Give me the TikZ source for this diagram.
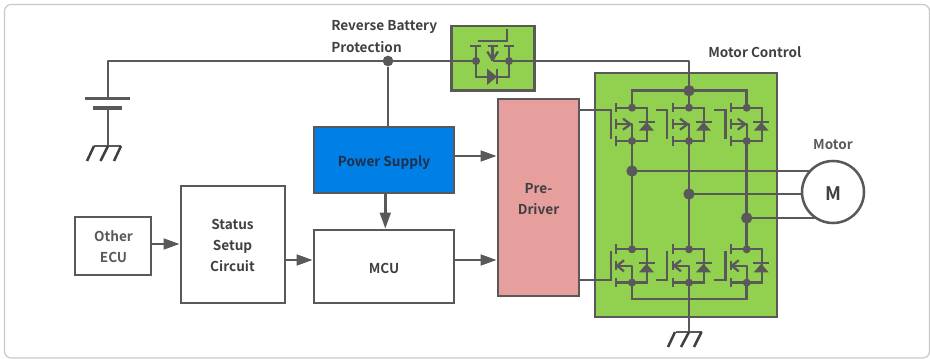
\documentclass[tikz,border=0pt]{standalone}
\usepackage{fontspec}
\setmainfont{Noto Sans CJK JP}[BoldFont={Noto Sans CJK JP Bold}]
\usetikzlibrary{arrows.meta}
\definecolor{wire}{HTML}{595959}
\definecolor{frameg}{HTML}{C8C8C8}
\definecolor{fetgreen}{HTML}{92D050}
\definecolor{prepink}{HTML}{E69F9D}
\definecolor{psblue}{HTML}{0080E6}
\definecolor{txt}{HTML}{404040}
\definecolor{navytxt}{HTML}{1F2F4A}
\tikzset{
  x=0.75pt,y=-0.75pt,
  wirel/.style={draw=wire,line width=1.95pt},
  thinw/.style={draw=wire,line width=1.7pt},
  boxs/.style={draw=wire,line width=2pt,fill=white,inner sep=0pt,text=txt,font=\bfseries\fontsize{10.2}{15.6}\selectfont,align=center},
  lab/.style={text=txt,font=\bfseries\fontsize{10.2}{15.6}\selectfont,inner sep=0pt},
  arr/.style={wirel,-{Triangle[length=12pt,width=8pt]}},
  dotb/.style={circle,fill=wire,inner sep=0pt,minimum size=8pt},
  dots/.style={circle,fill=wire,inner sep=0pt,minimum size=6pt},
  dotl/.style={circle,fill=wire,inner sep=0pt,minimum size=8.5pt},
  gndl/.style={draw=txt,line width=1.9pt}
}
\newcommand{\fetbody}[3]{%
\begin{scope}[shift={(#1,#2)}]
  \draw[thinw] (-16,0) -- (15,0) -- (15,33.3) -- (-16,33.3);
  \draw[thinw] (-16,-5) -- (-16,4.5) (-16,11.5) -- (-16,21) (-16,28.5) -- (-16,38);
  \fill[wire] (14.5,13.5) ++(-7.5,9.5) -- ++(15,0) -- (14.5,14.5) -- cycle;
  \draw[thinw] (6.5,14) -- (22.5,14);
  \node[dots] at (0,0) {};
  \node[dots] at (0,33.3) {};
  \ifnum#3=1
    \draw[thinw,line join=round] (-16,16.5) -- (0,16.5) -- (0,33.3);
    \draw[thinw] (-9,11) -- (-1.5,16.5) -- (-9,22);
  \else
    \draw[thinw,line join=round] (-15,16.5) -- (0,16.5) -- (0,33.3);
    \draw[thinw] (-8,11) -- (-15,16.5) -- (-8,22);
  \fi
\end{scope}}
\begin{document}
\begin{tikzpicture}
\useasboundingbox (0,0) rectangle (930,359);
\draw[frameg,line width=0.9pt,rounded corners=5pt] (4.5,4.5) rectangle (929.5,358);
\node[draw=wire,line width=2pt,fill=fetgreen,inner sep=0pt,minimum width=62.25pt,minimum height=48.5pt] (rbp) at (493.3,58.3) {};
\node[draw=wire,line width=2pt,fill=fetgreen,inner sep=0pt,minimum width=136.5pt,minimum height=183pt] (mc) at (686,195) {};
\coordinate (bt) at (108,61);
\coordinate (rbl) at (476,61);
\coordinate (rbr) at (509,61);
\coordinate (rbm) at (492.5,61);
\coordinate (pj) at (388,61);
\coordinate (corner) at (689,61);
\coordinate (topr) at (689,90.7);
\coordinate (topa) at (632,90.7);
\coordinate (topc) at (746.7,90.7);
\coordinate (bp1) at (108,98.5);
\coordinate (bp2) at (108,108);
\coordinate (bg) at (108,146);
\coordinate (gg) at (689,332);
\coordinate (botr) at (689,299);
\coordinate (bota) at (632,299);
\coordinate (botc) at (746.7,299);
\draw[wirel,line join=round] (bp1) -- (bt) -- (rbl);
\draw[wirel,line join=round] (rbm) -- (corner) -- (topr);
\draw[wirel] (topa |- 107.7,107.7) -- (topa) -- (topc) -- (topc |- 107.7,107.7);
\draw[wirel] (topr) -- (689,107.7);
\draw[wire,line width=2.7pt] (85,98.5) -- (130,98.5);
\draw[wire,line width=2.7pt] (93,108) -- (122,108);
\draw[wirel] (bp2) -- (bg);
\draw[wirel] (94,146) -- (121,146);
\draw[gndl] (94,146) -- (87,161) (108,146) -- (100.5,161) (121,146) -- (114,161);
\draw[thinw] (477.7,40.7) -- (507,40.7) -- (507,29);
\draw[thinw] (470,45.7) -- (481,45.7) (487.5,45.7) -- (498,45.7) (504,45.7) -- (513.5,45.7);
\draw[thinw] (rbl |- 0,45.7) -- (rbl) -- (rbl |- 0,76.7) -- (rbr |- 0,76.7) -- (rbr) -- (rbr |- 0,45.7);
\draw[thinw] (rbm |- 0,45.7) -- (rbm);
\draw[thinw,line join=round] (487.3,51.5) -- (492.5,60) -- (498,51.5);
\fill[wire] (487,68.5) -- (497,76.7) -- (487,85) -- cycle;
\draw[thinw] (497,69) -- (497,84.5);
\node[dots] at (rbl) {};
\node[dots] at (rbr) {};
\node[dotb] (pjd) at (pj) {};
\coordinate (m1) at (632,171);
\coordinate (m2) at (689,194);
\coordinate (m3) at (746.7,218);
\draw[wirel] (632,141) -- (m1) -- (632,249.3);
\draw[wirel] (689,141) -- (m2) -- (689,249.3);
\draw[wirel] (746.7,141) -- (m3) -- (746.7,249.3);
\draw[wirel] (632,282.3) -- (bota) -- (botc) -- (746.7,282.3);
\draw[wirel] (689,282.3) -- (gg);
\draw[wirel] (676,332) -- (701.5,332);
\draw[gndl] (675,332) -- (668,347) (689,332) -- (681,347) (701.5,332) -- (694,347);
\fetbody{632}{107.7}{1}
\fetbody{689}{107.7}{1}
\fetbody{746.7}{107.7}{1}
\fetbody{632}{249.3}{0}
\fetbody{689}{249.3}{0}
\fetbody{746.7}{249.3}{0}
\node[dotl] at (m1) {};
\node[dotl] at (m2) {};
\node[dotl] at (m3) {};
\node[dotl] at (topr) {};
\node[boxs,fill=prepink,minimum width=60.75pt,minimum height=147.75pt] (pre) at (538.5,197.5) {};
\node[lab,align=center] at (538.5,198.8) {Pre-\\Driver};
\node[boxs,fill=psblue,minimum width=105pt,minimum height=49.5pt] (ps) at (384,160) {};
\node[lab,text=navytxt] at (384,162.5) {Power Supply};
\node[boxs,minimum width=105pt,minimum height=54.75pt] (mcu) at (384,266.5) {};
\node[lab] at (384,268) {MCU};
\node[boxs,minimum width=78pt,minimum height=87.75pt] (st) at (233,244.5) {};
\node[lab,align=center] at (232.5,245.5) {Status\\Setup\\Circuit};
\node[boxs,minimum width=57pt,minimum height=43.5pt] (ecu) at (113,246) {};
\node[lab,align=center,text=wire] at (113.5,247) {Other\\ECU};
\coordinate (g1) at (611,110);
\coordinate (g2) at (667,110);
\coordinate (g3) at (725.7,110);
\coordinate (h1) at (611,280);
\coordinate (h2) at (667,280);
\coordinate (h3) at (725.7,280);
\draw[wirel] (pre.east |- g1) -- (g1) -- (611,139);
\draw[wirel] (656,110) -- (g2) -- (667,139);
\draw[wirel] (714,110) -- (g3) -- (725.7,139);
\draw[wirel] (pre.east |- h1) -- (h1) -- (611,251);
\draw[wirel] (656,280) -- (h2) -- (667,251);
\draw[wirel] (714,280) -- (h3) -- (725.7,251);
\draw[wirel] (pjd) -- (pjd |- ps.north);
\draw[arr] (ecu.east |- 0,244) -- (st.west |- 0,244);
\draw[arr] (st.east |- 0,260) -- (mcu.west |- 0,260);
\draw[arr] (mcu.east |- 0,260) -- (pre.west |- 0,260);
\draw[arr] (ps.east |- 0,156) -- (pre.west |- 0,156);
\draw[arr] (ps.south -| 385.3,0) -- (mcu.north -| 385.3,0);
\draw[wirel] (m1) -- (833,171);
\draw[wirel] (m2) -- (833,194);
\draw[wirel] (m3) -- (833,218);
\node[circle,draw=wire,line width=1.9pt,fill=white,minimum size=46.5pt,inner sep=0pt] (mot) at (833,192) {};
\node[text=txt,inner sep=0pt,font=\bfseries\fontsize{14}{16}\selectfont] at (833,194) {M};
\node[lab,anchor=west] (l1) at (331,27) {Reverse Battery};
\node[lab,anchor=west] (l2) at (331,47.5) {Protection};
\node[lab,anchor=west] (l3) at (708,52.5) {Motor Control};
\node[lab,text=wire] (l4) at (833,145) {Motor};
\end{tikzpicture}
\end{document}
